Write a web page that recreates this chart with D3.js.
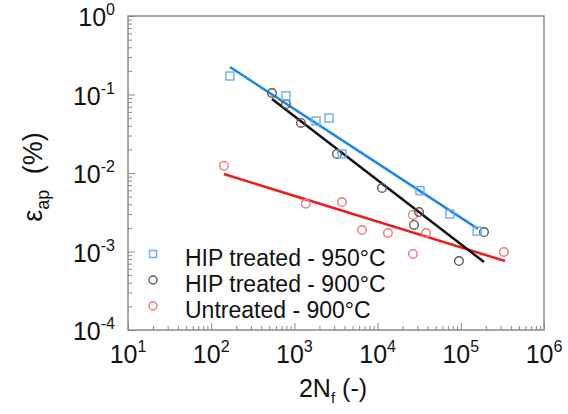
<!DOCTYPE html>
<html>
<head>
<meta charset="utf-8">
<script src="https://cdn.jsdelivr.net/npm/d3@7"></script>
<style>
  body { margin: 0; background: #fff; }
  svg { font-family: "Liberation Sans", Arial, sans-serif; }
</style>
</head>
<body>
<div id="chart"></div>
<script>
// Measured points (2Nf, strain amplitude %)
const hip950N = [168, 792, 1820, 2606, 3733, 32300, 74000, 157000];
const hip950E = [0.172, 0.096, 0.046, 0.050, 0.0175, 0.00595, 0.0030, 0.00182];
const hip900N = [538, 792, 1200, 3250, 11300, 31500, 27400, 95000, 190000];
const hip900E = [0.1045, 0.0757, 0.0434, 0.0175, 0.00644, 0.00318, 0.00218, 0.000757, 0.00177];
const untrN = [142, 1370, 3733, 6490, 13300, 26600, 38200, 26600, 330000];
const untrE = [0.0124, 0.00406, 0.00427, 0.00188, 0.00172, 0.00292, 0.00172, 0.00093, 0.000986];

// Fit line end points
const fit950N = [168, 161000];
const fit950E = [0.224, 0.00194];
const fit900N = [538, 190000];
const fit900E = [0.0877, 0.000735];
const fitUntrN = [142, 340000];
const fitUntrE = [0.0097, 0.000757];

const xExp = [1, 2, 3, 4, 5, 6];
const yExp = [0, -1, -2, -3, -4];
const legendLabels = ["HIP treated - 950\u00B0C", "HIP treated - 900\u00B0C", "Untreated - 900\u00B0C"];

const W = 568, H = 414;
const margin = {top: 16, right: 24, bottom: 84, left: 128};
const width = W - margin.left - margin.right;
const height = H - margin.top - margin.bottom;

const svg = d3.select("#chart").append("svg")
    .attr("width", W)
    .attr("height", H);

const g = svg.append("g")
    .attr("transform", `translate(${margin.left},${margin.top})`);

const x = d3.scaleLog().domain([10, 1e6]).range([0, width]);
const y = d3.scaleLog().domain([1e-4, 1]).range([height, 0]);

const axisColor = "#8a8a8a";

// minor ticks 2..9 in every decade
function minorTicks(lo, hi) {
    const out = [];
    for (let e = lo; e < hi; e++) {
        for (let m = 2; m <= 9; m++) out.push(m * Math.pow(10, e));
    }
    return out;
}

// ticks point inward
g.append("g")
    .attr("class", "axis")
    .attr("transform", `translate(0,${height})`)
    .call(d3.axisBottom(x).tickValues(minorTicks(1, 6)).tickSize(-4).tickFormat(""));
g.append("g")
    .attr("class", "axis")
    .attr("transform", `translate(0,${height})`)
    .call(d3.axisBottom(x).tickValues(xExp.map(e => Math.pow(10, e))).tickSize(-7).tickFormat(""));

g.append("g")
    .attr("class", "axis")
    .call(d3.axisLeft(y).tickValues(minorTicks(-4, 0)).tickSize(-4).tickFormat(""));
g.append("g")
    .attr("class", "axis")
    .call(d3.axisLeft(y).tickValues(yExp.map(e => Math.pow(10, e))).tickSize(-7).tickFormat(""));

g.selectAll(".axis path").remove();
g.selectAll(".axis line").style("stroke", axisColor).style("stroke-width", 1);

// frame
g.append("rect")
    .attr("width", width)
    .attr("height", height)
    .attr("fill", "none")
    .attr("stroke", axisColor)
    .attr("stroke-width", 1.5);

// tick labels with superscripts
xExp.forEach(e => {
    const t = g.append("text")
        .attr("x", x(Math.pow(10, e)))
        .attr("y", height + 33)
        .attr("text-anchor", "middle")
        .style("font-size", "25px")
        .style("fill", "#111");
    t.append("tspan").text("10");
    t.append("tspan").attr("dy", -11).style("font-size", "16px").text(e);
});

yExp.forEach(e => {
    const t = g.append("text")
        .attr("x", -13)
        .attr("y", y(Math.pow(10, e)) + 10)
        .attr("text-anchor", "end")
        .style("font-size", "25px")
        .style("fill", "#111");
    t.append("tspan").text("10");
    t.append("tspan").attr("dy", -11).style("font-size", "16px").text(e === 0 ? "0" : e);
});

// axis titles
const xt = svg.append("text")
    .attr("x", 333)
    .attr("y", 397)
    .attr("text-anchor", "middle")
    .style("font-size", "25px")
    .style("fill", "#111");
xt.append("tspan").text("2N");
xt.append("tspan").attr("dy", 6).style("font-size", "15px").text("f");
xt.append("tspan").attr("dy", -6).text(" (-)");

const yt = svg.append("text")
    .attr("transform", `translate(42,177) rotate(-90)`)
    .attr("text-anchor", "middle")
    .style("font-size", "27px")
    .style("fill", "#111");
yt.append("tspan").text("\u03B5");
yt.append("tspan").attr("dy", 7).style("font-size", "18px").text("ap");
yt.append("tspan").attr("dy", -7).attr("dx", 8).text(" (%)");

// fit lines
const line = d3.line().x(d => x(d[0])).y(d => y(d[1]));
function fit(N, E, color) {
    g.append("path")
        .datum(N.map((n, i) => [n, E[i]]))
        .attr("d", line)
        .attr("fill", "none")
        .attr("stroke", color)
        .attr("stroke-width", 2.5);
}
fit(fitUntrN, fitUntrE, "#ee1c1c");
fit(fit900N, fit900E, "#111111");
fit(fit950N, fit950E, "#1f86e6");

const blue = "#6aaef0", gray = "#5a5a5a", red = "#f07575";

// markers
function squares(N, E, color) {
    g.selectAll(null)
        .data(N.map((n, i) => [n, E[i]]))
        .enter().append("rect")
        .attr("x", d => x(d[0]) - 4)
        .attr("y", d => y(d[1]) - 4)
        .attr("width", 8)
        .attr("height", 8)
        .attr("fill", "none")
        .attr("stroke", color)
        .attr("stroke-width", 1.4);
}
function circles(N, E, color) {
    g.selectAll(null)
        .data(N.map((n, i) => [n, E[i]]))
        .enter().append("circle")
        .attr("cx", d => x(d[0]))
        .attr("cy", d => y(d[1]))
        .attr("r", 4.3)
        .attr("fill", "none")
        .attr("stroke", color)
        .attr("stroke-width", 1.4);
}
circles(untrN, untrE, red);
circles(hip900N, hip900E, gray);
squares(hip950N, hip950E, blue);

// legend
const lg = svg.append("g").attr("transform", "translate(153,254)");
const colors = [blue, gray, red];
legendLabels.forEach((lab, i) => {
    const yy = i * 26;
    if (i === 0) {
        lg.append("rect").attr("x", -3.5).attr("y", yy - 3.5).attr("width", 7).attr("height", 7)
            .attr("fill", "none").attr("stroke", colors[i]).attr("stroke-width", 1.4);
    } else {
        lg.append("circle").attr("cx", 0).attr("cy", yy).attr("r", 4)
            .attr("fill", "none").attr("stroke", colors[i]).attr("stroke-width", 1.4);
    }
    lg.append("text")
        .attr("x", 32)
        .attr("y", yy + 12)
        .style("font-size", "23px")
        .style("fill", "#111")
        .text(lab);
});
</script>
</body>
</html>
